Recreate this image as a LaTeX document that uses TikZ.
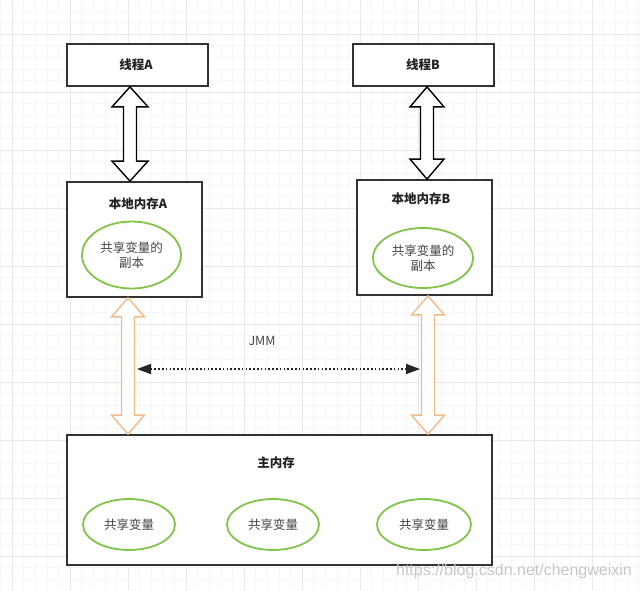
\documentclass[tikz,border=0pt]{standalone}
\usepackage{fontspec}
\setmainfont{Noto Sans CJK SC}
\newfontfamily\wmfont{Liberation Sans}
\usetikzlibrary{arrows.meta,calc,shapes.geometric}
\definecolor{boxline}{HTML}{333333}
\definecolor{ellline}{HTML}{82C44A}
\definecolor{orangeline}{HTML}{F2BB8A}
\definecolor{gridmajor}{HTML}{E8E8E8}
\definecolor{gridminor}{HTML}{F6F6F6}
\definecolor{txtdark}{HTML}{222222}
\definecolor{txtmid}{HTML}{444444}
\tikzset{
  boxnode/.style={draw=boxline, line width=1.8pt, fill=white, inner sep=0pt},
  ellnode/.style={draw=ellline, line width=1.8pt, fill=white, ellipse, inner sep=0pt, align=center,
    font=\fontsize{12.5}{15}\selectfont, text=txtmid},
  titletext/.style={font=\fontsize{12.5}{15}\selectfont\bfseries, text=txtdark, inner sep=0pt},
  blkarrow/.style={draw=black, line width=1.4pt, fill=white, line join=miter},
  orgarrow/.style={draw=orangeline, line width=1.4pt, fill=white, line join=miter},
  majorgrid/.style={draw=gridmajor, line width=0.8pt},
  minorgrid/.style={draw=gridminor, line width=0.6pt},
}
% double arrow: #1 style, #2 x, #3 top anchor, #4 bottom anchor, #5 shaft half width, #6 head half width, #7 head length
\newcommand\DblArrowV[7]{%
  \path[#1] let \p1=(#3), \p2=(#4) in
    (#2pt,\y1) -- ({#2pt+#6pt},{\y1-#7pt}) -- ({#2pt+#5pt},{\y1-#7pt}) --
    ({#2pt+#5pt},{\y2+#7pt}) -- ({#2pt+#6pt},{\y2+#7pt}) -- (#2pt,\y2) --
    ({#2pt-#6pt},{\y2+#7pt}) -- ({#2pt-#5pt},{\y2+#7pt}) --
    ({#2pt-#5pt},{\y1-#7pt}) -- ({#2pt-#6pt},{\y1-#7pt}) -- cycle;
}
\begin{document}
\begin{tikzpicture}[x=1pt,y=-1pt]
\useasboundingbox[fill=white] (0,0) rectangle (640,590);
% grid
\foreach \i in {-1,...,54} {\draw[minorgrid] ({12+11.6*\i},0) -- ({12+11.6*\i},590);}
\foreach \i in {-3,...,49} {\draw[minorgrid] (0,{34+11.6*\i}) -- (640,{34+11.6*\i});}
\foreach \i in {0,...,10} {\draw[majorgrid] ({12+58*\i},0) -- ({12+58*\i},590);}
\foreach \i in {-1,...,9} {\draw[majorgrid] (0,{34+58*\i}) -- (640,{34+58*\i});}

% boxes
\node[boxnode, minimum width=141pt, minimum height=42pt] (ta) at (137.5,65) {};
\node[titletext] (tat) at (136,65) {线程A};
\node[boxnode, minimum width=141pt, minimum height=42pt] (tb) at (423.5,65) {};
\node[titletext] (tbt) at (423,65) {线程B};

\node[boxnode, minimum width=135pt, minimum height=115pt] (la) at (134.5,239.5) {};
\node[titletext] (lat) at (138,204) {本地内存A};
\node[boxnode, minimum width=135pt, minimum height=115pt] (lb) at (424.5,237.5) {};
\node[titletext] (lbt) at (421,199) {本地内存B};

\node[boxnode, minimum width=425pt, minimum height=130pt] (mm) at (279.5,500) {};
\node[titletext] (mmt) at (276,463) {主内存};

% ellipses
\node[ellnode, minimum width=99pt, minimum height=67pt] (ea) at (131.5,255) {共享变量的\\副本};
\node[ellnode, minimum width=100pt, minimum height=60pt] (eb) at (423,258) {共享变量的\\副本};
\node[ellnode, minimum width=92pt, minimum height=51pt] (e1) at (129,524.5) {共享变量};
\node[ellnode, minimum width=92pt, minimum height=51pt] (e2) at (273,524.5) {共享变量};
\node[ellnode, minimum width=94pt, minimum height=51pt] (e3) at (424,524.5) {共享变量};

% black double arrows
\DblArrowV{blkarrow}{130}{ta.south}{la.north}{6.5}{18}{20}
\DblArrowV{blkarrow}{427}{tb.south}{lb.north}{6.5}{17}{20}
% orange double arrows
\DblArrowV{orgarrow}{128}{la.south}{mm.north}{6.5}{16.5}{19}
\DblArrowV{orgarrow}{428}{lb.south}{mm.north}{6.5}{16.5}{19}

% JMM
\coordinate (jl) at (137,369);
\coordinate (jr) at (420,369);
\draw[line width=1.6pt, dash pattern=on 1.6pt off 2.2pt, black!85,
  {Triangle[length=14pt,width=10pt]}-{Triangle[length=14pt,width=10pt]}] (jl) -- (jr);
\node[font=\fontsize{12.5}{15}\selectfont, text=txtmid] (jmm) at (262,341) {JMM};

% watermark
\node[font=\wmfont\fontsize{16}{18}\selectfont, text=black!22] (wm) at (514,571) {https://blog.csdn.net/chengweixin};
\end{tikzpicture}
\end{document}
